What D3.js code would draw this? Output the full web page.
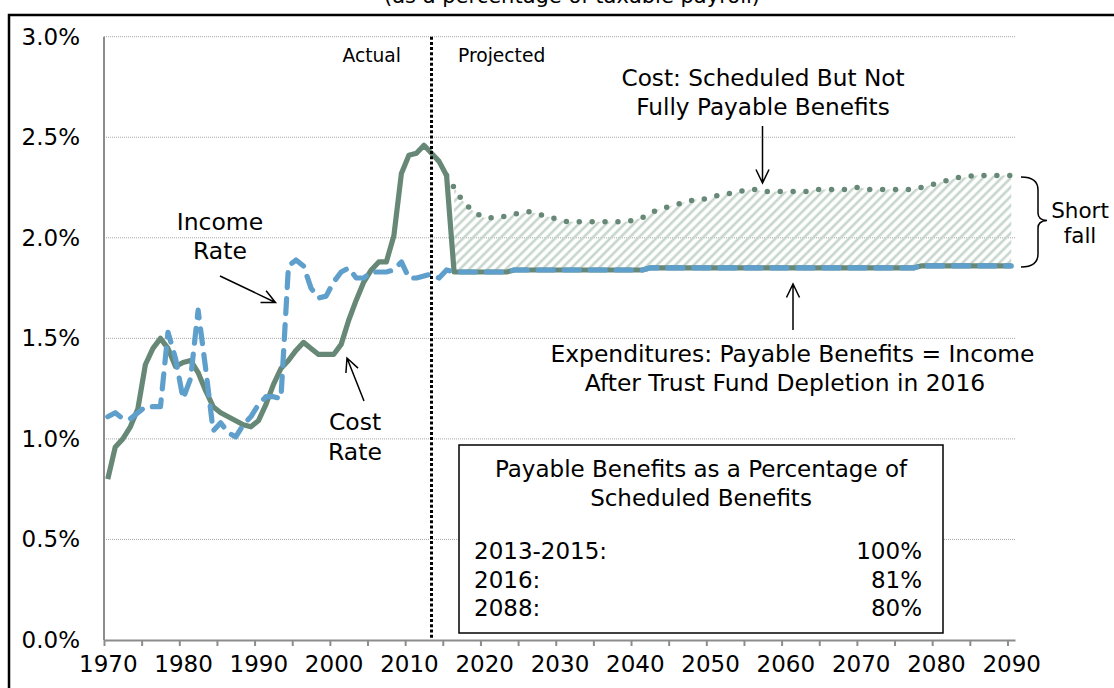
<!DOCTYPE html>
<html>
<head>
<meta charset="utf-8">
<title>cost and income rates</title>
<script src="https://cdn.jsdelivr.net/npm/d3@7"></script>
<style>
body { margin: 0; background: #fff; }
svg { display: block; }
text { font-family: Verdana, "DejaVu Sans", sans-serif; fill: #000; }
.grid line { stroke: #a8a8a8; stroke-width: 1; stroke-dasharray: 1,1; }
.axis path, .axis line { stroke: #8c8c8c; stroke-width: 2; }
</style>
</head>
<body>
<svg id="chart" width="1114" height="688"></svg>
<script>
// categories
var firstYear = 1970, lastYear = 2090;
var labelYears = [1970, 1980, 1990, 2000, 2010, 2020, 2030, 2040, 2050, 2060, 2070, 2080, 2090];
var yTicks = [0, 0.5, 1.0, 1.5, 2.0, 2.5, 3.0];

// historical cost rate, 1970-2015
var costActual = [0.80, 0.96, 1.00, 1.06, 1.15, 1.37, 1.45, 1.50, 1.45, 1.36,
                  1.38, 1.39, 1.33, 1.24, 1.16, 1.13, 1.11, 1.09, 1.07, 1.06,
                  1.09, 1.17, 1.27, 1.35, 1.39, 1.44, 1.48, 1.45, 1.42, 1.42,
                  1.42, 1.47, 1.59, 1.69, 1.78, 1.84, 1.88, 1.88, 2.01, 2.32,
                  2.41, 2.42, 2.46, 2.42, 2.38, 2.31];

// income rate, 1970-2015
var incomeRate = [1.11, 1.13, 1.10, 1.10, 1.13, 1.16, 1.16, 1.16, 1.53, 1.40,
                  1.20, 1.30, 1.64, 1.35, 1.04, 1.08, 1.03, 1.01, 1.07, 1.11,
                  1.17, 1.21, 1.21, 1.20, 1.86, 1.89, 1.86, 1.75, 1.70, 1.71,
                  1.78, 1.83, 1.85, 1.80, 1.80, 1.83, 1.83, 1.83, 1.84, 1.88,
                  1.80, 1.80, 1.81, 1.82, 1.80, 1.84];

// payable benefits (= income) after depletion, 2016-2090
var payable = [1.83, 1.83, 1.83, 1.83, 1.83, 1.83, 1.83, 1.83,
               1.84, 1.84, 1.84, 1.84, 1.84, 1.84, 1.84, 1.84, 1.84, 1.84,
               1.84, 1.84, 1.84, 1.84, 1.84, 1.84, 1.84, 1.84,
               1.85, 1.85, 1.85, 1.85, 1.85, 1.85, 1.85, 1.85, 1.85, 1.85,
               1.85, 1.85, 1.85, 1.85, 1.85, 1.85, 1.85, 1.85, 1.85, 1.85,
               1.85, 1.85, 1.85, 1.85, 1.85, 1.85, 1.85, 1.85, 1.85, 1.85,
               1.85, 1.85, 1.85, 1.85, 1.85, 1.85,
               1.86, 1.86, 1.86, 1.86, 1.86, 1.86, 1.86, 1.86, 1.86, 1.86,
               1.86, 1.86, 1.86];

// scheduled cost, 2015-2090
var scheduled = [2.31, 2.25, 2.19, 2.15, 2.12, 2.10, 2.10, 2.10, 2.11, 2.12,
                 2.12, 2.13, 2.12, 2.11, 2.10, 2.09, 2.08, 2.08, 2.08, 2.08,
                 2.08, 2.08, 2.08, 2.08, 2.08, 2.09, 2.10, 2.12, 2.14, 2.15,
                 2.16, 2.17, 2.18, 2.19, 2.19, 2.20, 2.21, 2.22, 2.22, 2.23,
                 2.24, 2.24, 2.23, 2.23, 2.23, 2.23, 2.23, 2.23, 2.23, 2.24,
                 2.24, 2.24, 2.24, 2.24, 2.25, 2.25, 2.24, 2.24, 2.24, 2.24,
                 2.24, 2.24, 2.24, 2.25, 2.26, 2.27, 2.28, 2.29, 2.30, 2.30,
                 2.31, 2.31, 2.31, 2.31, 2.31, 2.31];

var tableRows = [["2013-2015:", "100%"], ["2016:", "81%"], ["2088:", "80%"]];

var green = "#688877", blue = "#5f9fcc", hatch = "#c6d6cc";
var fontFam = "Verdana, 'DejaVu Sans', sans-serif";

var svg = d3.select("#chart");

var x = d3.scaleLinear().domain([firstYear - 0.5, lastYear + 0.5]).range([104, 1015]);
var y = d3.scaleLinear().domain([0, 3]).range([640, 36.7]);

function series(start, vals) {
    return vals.map(function(v, i) { return {year: start + i, v: v}; });
}
var costSeries = series(1970, costActual).concat(series(2016, payable));
var incomeSeries = series(1970, incomeRate).concat(series(2016, payable));
var schedSeries = series(2015, scheduled);
var gapSeries = series(2016, payable).map(function(d, i) {
    return {year: d.year, lo: d.v, hi: scheduled[i + 1]};
});

// outer frame and the title line that is cut at the top
svg.append("text").attr("x", 572).attr("y", 3).attr("text-anchor", "middle")
    .attr("font-size", 21).text("(as a percentage of taxable payroll)");
svg.append("rect").attr("x", 9).attr("y", 15).attr("width", 1200).attr("height", 700)
    .attr("fill", "none").attr("stroke", "#000").attr("stroke-width", 2.5);

var defs = svg.append("defs");
defs.append("pattern").attr("id", "hatch").attr("patternUnits", "userSpaceOnUse")
    .attr("width", 6.5).attr("height", 6.5).attr("patternTransform", "rotate(45)")
  .append("line").attr("x1", 2).attr("y1", 0).attr("x2", 2).attr("y2", 6.5)
    .attr("stroke", hatch).attr("stroke-width", 2.6);

// gridlines
svg.append("g").attr("class", "grid").selectAll("line")
    .data(yTicks.filter(function(d) { return d > 0; }))
    .enter().append("line")
    .attr("x1", x.range()[0]).attr("x2", x.range()[1])
    .attr("y1", function(d) { return y(d); }).attr("y2", function(d) { return y(d); });

// axes
var tickBounds = d3.range(0, lastYear - firstYear + 1, 5).map(function(i) { return firstYear - 0.5 + i; });
svg.append("g").attr("class", "axis").attr("transform", "translate(0,640)")
    .call(d3.axisBottom(x).tickValues(tickBounds).tickSize(6).tickSizeOuter(0).tickFormat(""))
    .selectAll(".tick line").attr("stroke-width", 1.5);

svg.append("g").attr("transform", "translate(0,640)")
    .call(d3.axisBottom(x).tickValues(labelYears).tickSize(0).tickPadding(16).tickFormat(d3.format("d")))
    .call(function(g) { g.select(".domain").remove(); })
    .selectAll("text").attr("font-size", 23).attr("font-family", fontFam);

svg.append("g").attr("class", "axis").attr("transform", "translate(104,0)")
    .call(d3.axisLeft(y).tickValues(yTicks).tickSize(0).tickPadding(24)
        .tickFormat(function(d) { return d.toFixed(1) + "%"; }))
    .call(function(g) { g.select(".domain").attr("d", "M0," + y(3) + "V" + y(0)); })
    .selectAll("text").attr("font-size", 23).attr("font-family", fontFam);

// shortfall hatch
svg.append("path").datum(gapSeries)
    .attr("fill", "url(#hatch)")
    .attr("d", d3.area()
        .x(function(d) { return x(d.year); })
        .y0(function(d) { return y(d.lo); })
        .y1(function(d) { return y(d.hi); }));

var line = d3.line()
    .x(function(d) { return x(d.year); })
    .y(function(d) { return y(d.v); });

svg.append("path").datum(schedSeries)
    .attr("fill", "none").attr("stroke", green).attr("stroke-width", 5.5)
    .attr("stroke-linecap", "round").attr("stroke-dasharray", "0,12.9")
    .attr("d", line);

svg.append("path").datum(costSeries)
    .attr("fill", "none").attr("stroke", green).attr("stroke-width", 5.2)
    .attr("stroke-linejoin", "round").attr("d", line);

svg.append("path").datum(incomeSeries)
    .attr("fill", "none").attr("stroke", blue).attr("stroke-width", 5.2)
    .attr("stroke-linecap", "round").attr("stroke-linejoin", "round")
    .attr("stroke-dasharray", "15,11").attr("d", line);

// actual / projected divider
svg.append("line")
    .attr("x1", x(2013)).attr("x2", x(2013)).attr("y1", y(3)).attr("y2", y(0))
    .attr("stroke", "#000").attr("stroke-width", 3).attr("stroke-dasharray", "3,2.2");

svg.append("text").attr("x", 401).attr("y", 62).attr("text-anchor", "end")
    .attr("font-size", 18.7).text("Actual");
svg.append("text").attr("x", 458).attr("y", 62)
    .attr("font-size", 18.7).text("Projected");

// annotations
function label(lines, cx, y0, size, step) {
    var t = svg.append("text").attr("text-anchor", "middle").attr("font-size", size);
    lines.forEach(function(s, i) {
        t.append("tspan").attr("x", cx).attr("y", y0 + i * step).text(s);
    });
}
function arrow(x1, y1, x2, y2) {
    var a = Math.atan2(y2 - y1, x2 - x1), L = 15, w = 0.45;
    svg.append("path")
        .attr("d", "M" + x1 + "," + y1 + "L" + x2 + "," + y2 +
            "M" + (x2 - L * Math.cos(a - w)) + "," + (y2 - L * Math.sin(a - w)) +
            "L" + x2 + "," + y2 +
            "L" + (x2 - L * Math.cos(a + w)) + "," + (y2 - L * Math.sin(a + w)))
        .attr("fill", "none").attr("stroke", "#000").attr("stroke-width", 1.5);
}

label(["Income", "Rate"], 220, 230, 23.5, 28.5);
arrow(220, 276, 275.5, 302.5);
label(["Cost", "Rate"], 355, 430, 23.5, 29.5);
arrow(364, 401, 347, 358);
label(["Cost:  Scheduled But Not", "Fully Payable Benefits"], 763, 86, 23.2, 29);
arrow(762.5, 126, 762.5, 183);
label(["Expenditures: Payable Benefits = Income"], 792.5, 362, 23.4, 0);
label(["After Trust Fund Depletion in 2016"], 785, 391, 23.4, 0);
arrow(793, 330, 793, 284);
label(["Short", "fall"], 1080, 218, 21.5, 25);
svg.append("path")
    .attr("d", "M1021,177Q1038,177 1038,190L1038,213Q1038,220 1047,220.5Q1038,221 1038,228L1038,254Q1038,267 1021,267")
    .attr("fill", "none").attr("stroke", "#000").attr("stroke-width", 1.5);

// payable percentage box
svg.append("rect").attr("x", 459).attr("y", 445).attr("width", 484).attr("height", 188)
    .attr("fill", "#fff").attr("stroke", "#000").attr("stroke-width", 1.5);
label(["Payable Benefits as a Percentage of", "Scheduled Benefits"], 701, 477, 23, 28.5);
var rows = svg.append("g").selectAll("g").data(tableRows).enter().append("g");
rows.append("text").attr("x", 474).attr("y", function(d, i) { return 559 + i * 28.5; })
    .attr("font-size", 23).text(function(d) { return d[0]; });
rows.append("text").attr("x", 922).attr("y", function(d, i) { return 559 + i * 28.5; })
    .attr("text-anchor", "end").attr("font-size", 23).text(function(d) { return d[1]; });
</script>
</body>
</html>
